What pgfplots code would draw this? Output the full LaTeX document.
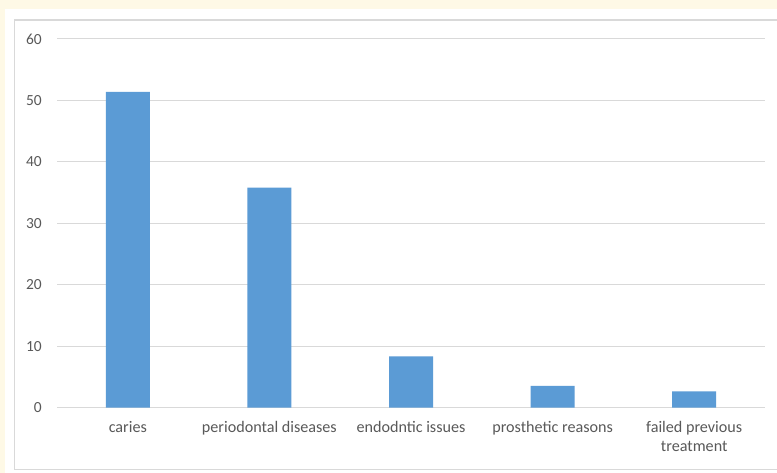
\documentclass[border=0pt]{standalone}
\usepackage{fontspec}
\setmainfont{Carlito}
\usepackage{pgfplots}
\pgfplotsset{compat=1.18}
\definecolor{barblue}{HTML}{5B9BD5}
\definecolor{txtgray}{HTML}{595959}
\definecolor{gridgray}{HTML}{D9D9D9}
\definecolor{bgyellow}{HTML}{FEF9E6}
\begin{document}
\begin{tikzpicture}[x=1bp,y=1bp]
\useasboundingbox (0,0) rectangle (777,473);
\fill[bgyellow] (0,0) rectangle (777,473);
\fill[white] (5,0) rectangle (777,464);
\draw[gridgray,line width=1.2bp] (14.5,3.5) rectangle (790,453);
\begin{axis}[
    at={(57bp,65.3bp)}, anchor=south west,
    scale only axis,
    width=708bp, height=368.7bp,
    ybar, bar width=44bp,
    xmin=-0.5, xmax=4.5,
    ymin=0, ymax=60,
    ytick={0,10,20,30,40,50,60},
    xtick=data,
    xticklabels={caries,periodontal diseases,endodntic issues,prosthetic reasons,{failed previous\\treatment}},
    axis line style={draw=none},
    major tick length=0pt,
    ymajorgrids=true,
    grid style={gridgray, line width=1bp},
    tick label style={text=txtgray},
    yticklabel style={font=\fontsize{15.5}{19}\selectfont, anchor=east, inner sep=0pt, xshift=-15bp},
    xticklabel style={font=\fontsize{16.2}{19}\selectfont, anchor=north, inner sep=0pt, align=center, yshift=-13bp,
        execute at begin node={\rule{0pt}{12bp}}},
    /pgf/number format/assume math mode=true,
]
\addplot[fill=barblue, draw=none] coordinates {
    (0,51.4) (1,35.8) (2,8.35) (3,3.55) (4,2.65)
};
\end{axis}
\end{tikzpicture}
\end{document}
